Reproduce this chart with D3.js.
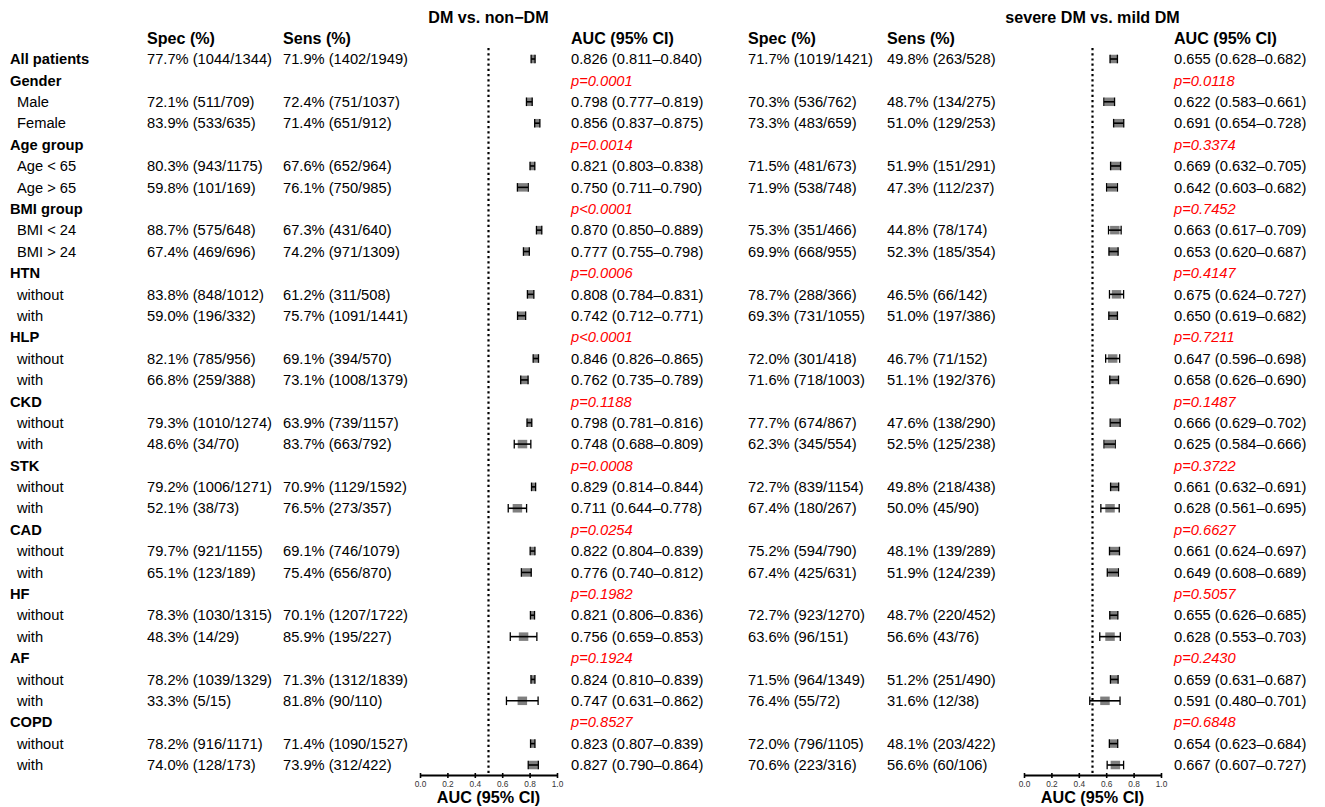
<!DOCTYPE html>
<html>
<head>
<meta charset="utf-8">
<script src="https://cdn.jsdelivr.net/npm/d3@7/dist/d3.min.js"></script>
<style>
  html, body { margin: 0; padding: 0; background: #fff; }
  svg { display: block; font-family: "Liberation Sans", Arial, Helvetica, sans-serif; }
</style>
</head>
<body>
<svg id="chart" width="1325" height="807"></svg>
<script>
// ---- Row labels (group headers in bold, subgroups indented) ----
const rowLabels = ["All patients","Gender","Male","Female","Age group","Age < 65","Age > 65",
  "BMI group","BMI < 24","BMI > 24","HTN","without","with","HLP","without","with",
  "CKD","without","with","STK","without","with","CAD","without","with",
  "HF","without","with","AF","without","with","COPD","without","with"];
const headerRows = ["All patients","Gender","Age group","BMI group","HTN","HLP","CKD","STK","CAD","HF","AF","COPD"];

// ---- DM vs. non-DM ----
const spec1 = ["77.7% (1044/1344)","","72.1% (511/709)","83.9% (533/635)","","80.3% (943/1175)","59.8% (101/169)",
  "","88.7% (575/648)","67.4% (469/696)","","83.8% (848/1012)","59.0% (196/332)","","82.1% (785/956)","66.8% (259/388)",
  "","79.3% (1010/1274)","48.6% (34/70)","","79.2% (1006/1271)","52.1% (38/73)","","79.7% (921/1155)","65.1% (123/189)",
  "","78.3% (1030/1315)","48.3% (14/29)","","78.2% (1039/1329)","33.3% (5/15)","","78.2% (916/1171)","74.0% (128/173)"];
const sens1 = ["71.9% (1402/1949)","","72.4% (751/1037)","71.4% (651/912)","","67.6% (652/964)","76.1% (750/985)",
  "","67.3% (431/640)","74.2% (971/1309)","","61.2% (311/508)","75.7% (1091/1441)","","69.1% (394/570)","73.1% (1008/1379)",
  "","63.9% (739/1157)","83.7% (663/792)","","70.9% (1129/1592)","76.5% (273/357)","","69.1% (746/1079)","75.4% (656/870)",
  "","70.1% (1207/1722)","85.9% (195/227)","","71.3% (1312/1839)","81.8% (90/110)","","71.4% (1090/1527)","73.9% (312/422)"];
const auc1 = [0.826,null,0.798,0.856,null,0.821,0.750,null,0.870,0.777,null,0.808,0.742,null,0.846,0.762,
  null,0.798,0.748,null,0.829,0.711,null,0.822,0.776,null,0.821,0.756,null,0.824,0.747,null,0.823,0.827];
const lo1 = [0.811,null,0.777,0.837,null,0.803,0.711,null,0.850,0.755,null,0.784,0.712,null,0.826,0.735,
  null,0.781,0.688,null,0.814,0.644,null,0.804,0.740,null,0.806,0.659,null,0.810,0.631,null,0.807,0.790];
const hi1 = [0.840,null,0.819,0.875,null,0.838,0.790,null,0.889,0.798,null,0.831,0.771,null,0.865,0.789,
  null,0.816,0.809,null,0.844,0.778,null,0.839,0.812,null,0.836,0.853,null,0.839,0.862,null,0.839,0.864];
const pval1 = ["","p=0.0001","","","p=0.0014","","","p<0.0001","","","p=0.0006","","","p<0.0001","","",
  "p=0.1188","","","p=0.0008","","","p=0.0254","","","p=0.1982","","","p=0.1924","","","p=0.8527","",""];

// ---- severe DM vs. mild DM ----
const spec2 = ["71.7% (1019/1421)","","70.3% (536/762)","73.3% (483/659)","","71.5% (481/673)","71.9% (538/748)",
  "","75.3% (351/466)","69.9% (668/955)","","78.7% (288/366)","69.3% (731/1055)","","72.0% (301/418)","71.6% (718/1003)",
  "","77.7% (674/867)","62.3% (345/554)","","72.7% (839/1154)","67.4% (180/267)","","75.2% (594/790)","67.4% (425/631)",
  "","72.7% (923/1270)","63.6% (96/151)","","71.5% (964/1349)","76.4% (55/72)","","72.0% (796/1105)","70.6% (223/316)"];
const sens2 = ["49.8% (263/528)","","48.7% (134/275)","51.0% (129/253)","","51.9% (151/291)","47.3% (112/237)",
  "","44.8% (78/174)","52.3% (185/354)","","46.5% (66/142)","51.0% (197/386)","","46.7% (71/152)","51.1% (192/376)",
  "","47.6% (138/290)","52.5% (125/238)","","49.8% (218/438)","50.0% (45/90)","","48.1% (139/289)","51.9% (124/239)",
  "","48.7% (220/452)","56.6% (43/76)","","51.2% (251/490)","31.6% (12/38)","","48.1% (203/422)","56.6% (60/106)"];
const auc2 = [0.655,null,0.622,0.691,null,0.669,0.642,null,0.663,0.653,null,0.675,0.650,null,0.647,0.658,
  null,0.666,0.625,null,0.661,0.628,null,0.661,0.649,null,0.655,0.628,null,0.659,0.591,null,0.654,0.667];
const lo2 = [0.628,null,0.583,0.654,null,0.632,0.603,null,0.617,0.620,null,0.624,0.619,null,0.596,0.626,
  null,0.629,0.584,null,0.632,0.561,null,0.624,0.608,null,0.626,0.553,null,0.631,0.480,null,0.623,0.607];
const hi2 = [0.682,null,0.661,0.728,null,0.705,0.682,null,0.709,0.687,null,0.727,0.682,null,0.698,0.690,
  null,0.702,0.666,null,0.691,0.695,null,0.697,0.689,null,0.685,0.703,null,0.687,0.701,null,0.684,0.727];
const pval2 = ["","p=0.0118","","","p=0.3374","","","p=0.7452","","","p=0.4147","","","p=0.7211","","",
  "p=0.1487","","","p=0.3722","","","p=0.6627","","","p=0.5057","","","p=0.2430","","","p=0.6848","",""];

const axisTicks = [0.0, 0.2, 0.4, 0.6, 0.8, 1.0];
const refLine = 0.5;

// ---- layout ----
const svg = d3.select("#chart");
const bodySize = 14.7, headSize = 16.1;
const y = d3.scaleLinear().domain([0, rowLabels.length - 1]).range([59, 765]);
const base = c => c + 5.2;  // baseline for vertically centred body text
const fmt = d3.format(".3f");

function txt(g, x, yy, s, opts = {}) {
  return g.append("text")
    .attr("x", x).attr("y", yy)
    .attr("font-size", opts.size || bodySize)
    .attr("font-weight", opts.bold ? "bold" : "normal")
    .attr("font-style", opts.italic ? "italic" : "normal")
    .attr("fill", opts.color || "#000")
    .attr("text-anchor", opts.anchor || "start")
    .text(s);
}

// row labels
const labG = svg.append("g");
rowLabels.forEach((lab, i) => {
  const isHead = headerRows.includes(lab);
  txt(labG, isHead ? 10 : 17, base(y(i)), lab, { bold: isHead });
});

function panel(cfg) {
  const g = svg.append("g");
  const x = d3.scaleLinear().domain([0, 1]).range([cfg.x0, cfg.x1]);

  // title and column headers
  txt(g, x(refLine), 22.5, cfg.title, { bold: true, size: headSize, anchor: "middle" });
  txt(g, cfg.specX, 44, "Spec (%)", { bold: true, size: headSize });
  txt(g, cfg.sensX, 44, "Sens (%)", { bold: true, size: headSize });
  txt(g, cfg.aucX, 44, "AUC (95% CI)", { bold: true, size: headSize });

  // reference line at AUC = 0.5
  g.append("line")
    .attr("x1", x(refLine)).attr("x2", x(refLine))
    .attr("y1", 48).attr("y2", 775)
    .attr("stroke", "#000").attr("stroke-width", 2.2)
    .attr("stroke-dasharray", "2.2,3");

  rowLabels.forEach((lab, i) => {
    const cy = y(i);
    if (cfg.spec[i]) txt(g, cfg.specX, base(cy), cfg.spec[i]);
    if (cfg.sens[i]) txt(g, cfg.sensX, base(cy), cfg.sens[i]);
    if (cfg.pval[i]) txt(g, cfg.aucX, base(cy), cfg.pval[i], { italic: true, color: "#ff0000" });
    if (cfg.auc[i] != null) {
      const est = cfg.auc[i], lo = cfg.lo[i], hi = cfg.hi[i];
      txt(g, cfg.aucX, base(cy), `${fmt(est)} (${fmt(lo)}\u2013${fmt(hi)})`);
      // box, clipped to the confidence interval
      const bw = 9.5, bh = 8.5;
      const bx0 = Math.max(x(est) - bw / 2, x(lo));
      const bx1 = Math.min(x(est) + bw / 2, x(hi));
      g.append("rect")
        .attr("x", bx0).attr("y", cy - bh / 2)
        .attr("width", bx1 - bx0).attr("height", bh)
        .attr("fill", "#7f7f7f");
      // whisker and caps
      g.append("line")
        .attr("x1", x(lo)).attr("x2", x(hi)).attr("y1", cy).attr("y2", cy)
        .attr("stroke", "#000").attr("stroke-width", 1.6);
      [lo, hi].forEach(v => {
        g.append("line")
          .attr("x1", x(v)).attr("x2", x(v)).attr("y1", cy - 4.3).attr("y2", cy + 4.3)
          .attr("stroke", "#000").attr("stroke-width", 1.3);
      });
    }
  });

  // x axis
  const axis = d3.axisBottom(x).tickValues(axisTicks).tickFormat(d3.format(".1f"))
    .tickSizeInner(4).tickSizeOuter(0).tickPadding(2);
  const ag = g.append("g").attr("transform", "translate(0,775)").call(axis);
  ag.select(".domain").attr("stroke-width", 2.2).attr("stroke", "#000");
  ag.selectAll(".tick line").attr("stroke-width", 1.6).attr("stroke", "#000")
    .attr("y1", -2).attr("y2", 3);
  ag.selectAll(".tick text").attr("font-size", 8.3).attr("fill", "#333")
    .attr("font-family", "Liberation Sans, Arial, sans-serif").attr("y", 6);
  txt(g, x(refLine), 803, "AUC (95% CI)", { bold: true, size: 16.2, anchor: "middle" });
}

panel({ title: "DM vs. non\u2212DM", x0: 420, x1: 557, specX: 147, sensX: 283, aucX: 571,
  spec: spec1, sens: sens1, auc: auc1, lo: lo1, hi: hi1, pval: pval1 });
panel({ title: "severe DM vs. mild DM", x0: 1024, x1: 1161, specX: 748, sensX: 887, aucX: 1174,
  spec: spec2, sens: sens2, auc: auc2, lo: lo2, hi: hi2, pval: pval2 });
</script>
</body>
</html>
